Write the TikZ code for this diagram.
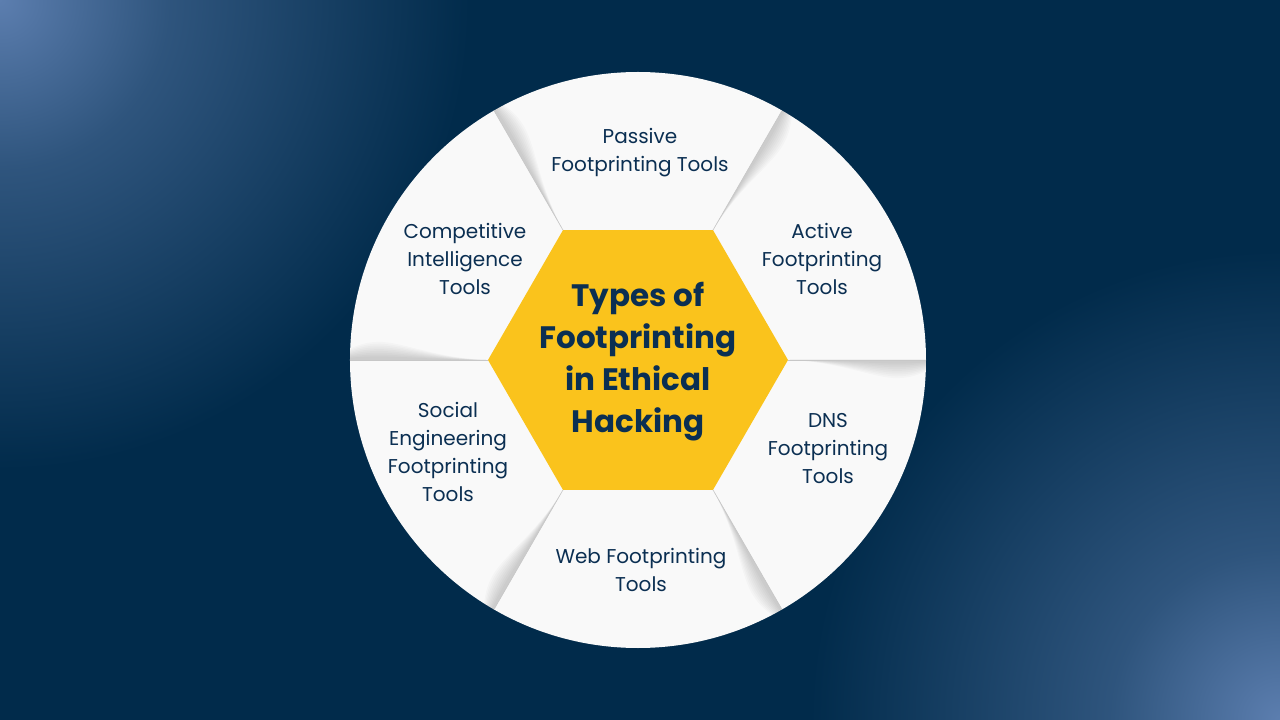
\documentclass[tikz,border=0pt]{standalone}
\usepackage{fontspec}
\setmainfont{Poppins}
\usetikzlibrary{shapes.geometric}
\definecolor{navyback}{HTML}{012B4B}
\definecolor{paleblue}{HTML}{5C7EAF}
\definecolor{hexyellow}{HTML}{FAC31C}
\definecolor{inkblue}{HTML}{0B2F52}
\definecolor{wheelwhite}{HTML}{F9F9F9}
\colorlet{glowmid}{paleblue!50!navyback}
\pgfdeclareradialshading{cornerglow}{\pgfpoint{0bp}{0bp}}{color(0bp)=(paleblue); color(9bp)=(glowmid); color(25bp)=(navyback); color(50bp)=(navyback)}
\def\foldline(#1){\foreach \s in {1.0,0.9,...,0.1}{\fill[black, opacity=0.02, rotate=#1, yscale=\s] (152,0) .. controls (200,-2) and (230,-16) .. (255,-18) .. controls (275,-19) and (285,-12) .. (292,-10) -- (292,0) -- cycle;}
	\draw[black!22, line width=0.6pt, rotate=#1] (150,0) -- (288,0);}

\begin{document}
\begin{tikzpicture}[x=1pt, y=1pt]
			%%%%% START %%%%%
			\tikzset{tool/.style={align=center, text=inkblue, font=\fontsize{20}{28}\selectfont}}
			\useasboundingbox (-638,-360) rectangle (642,360);
			
			\fill[navyback] (-638,-360) rectangle (642,360);
			\begin{scope}
				\clip (-638,-360) rectangle (642,360);
				\shade[shading=cornerglow] (-638,360) circle (470);
				\shade[shading=cornerglow] (642,-360) circle (470);
			\end{scope}
			
			\fill[wheelwhite] (0,0) circle (288);
			
			\begin{scope}
				\clip (0,0) circle (288);
				\foldline(0)
				\foldline(60)
				\foldline(120)
				\foldline(180)
				\foldline(240)
				\foldline(300)
			\end{scope}
			
			\node[regular polygon, regular polygon sides=6, minimum size=300pt, inner sep=0pt, fill=hexyellow] (hex) at (0,0) {};
			\node[align=center, text=inkblue, font=\fontsize{31}{42}\selectfont\bfseries] (title) at (0,-2) {Types of\\Footprinting\\in Ethical\\Hacking};
			
			\node[tool] (passive) at (2,207) {Passive\\Footprinting Tools};
			\node[tool] (active) at (184,101) {Active\\Footprinting\\Tools};
			\node[tool] (dns) at (190,-89) {DNS\\Footprinting\\Tools};
			\node[tool] (web) at (3,-210) {Web Footprinting\\Tools};
			\node[tool] (social) at (-190,-92) {Social\\Engineering\\Footprinting\\Tools};
			\node[tool] (competitive) at (-173,101) {Competitive\\Intelligence\\Tools};
			
			%%%%% END %%%%%
		\end{tikzpicture}
\end{document}
